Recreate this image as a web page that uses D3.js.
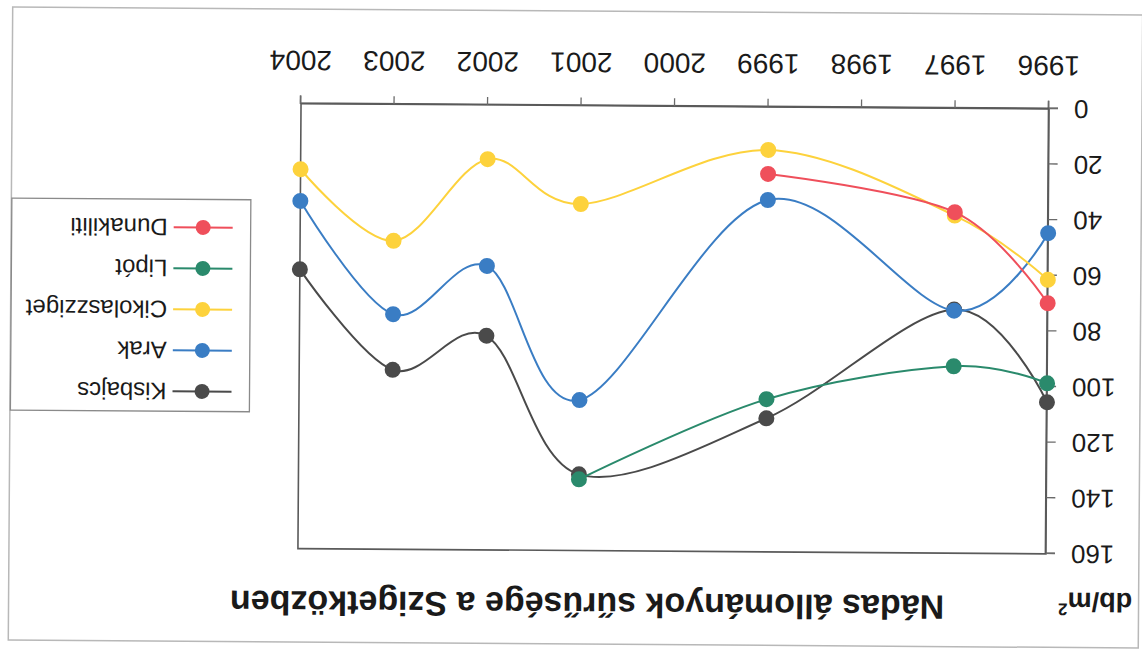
<!DOCTYPE html>
<html>
<head>
<meta charset="utf-8">
<script src="https://cdn.jsdelivr.net/npm/d3@7"></script>
<style>
  html, body { margin: 0; padding: 0; background: #fff; }
  svg { display: block; }
  text { font-family: "Liberation Sans", Arial, sans-serif; fill: #1a1a1a; }
</style>
</head>
<body>
<svg id="chart" width="1142" height="649"></svg>
<script>
// Categories (years) and reed density per site, stems per m² (null = no survey)
const years = ["1996", "1997", "1998", "1999", "2000", "2001", "2002", "2003", "2004"];
const kisbajcs      = [105.5, 72.4, null, 112.0, null, 132.6, 83.0, 95.5, 59.6];
const arak          = [44.7, 72.8, null, 33.5, null, 105.9, 57.9, 75.5, 35.0];
const cikolaszziget = [61.5, 38.6, null, 15.5, null, 35.4, 19.5, 49.1, 23.6];
const lipot         = [98.7, 92.8, null, 105.1, null, 134.4, null, null, null];
const dunakiliti    = [69.9, 37.4, null, 24.1, null, null, null, null, null];
const seriesNames   = ["Kisbajcs", "Arak", "Cikolaszziget", "Lipót", "Dunakiliti"];
const seriesColors  = ["#4a4a4a", "#3a7dc4", "#fdd23c", "#2a8a6c", "#ef4f5b"];
const yTicks        = [0, 20, 40, 60, 80, 100, 120, 140, 160];
const titleText     = "Nádas állományok sűrűsége a Szigetközben";

const seriesValues = [kisbajcs, arak, cikolaszziget, lipot, dunakiliti];
const W = 1142, H = 649;
const svg = d3.select("#chart");
svg.append("rect").attr("width", W).attr("height", H).attr("fill", "#fff");

// The whole sheet is drawn turned upside down
const root = svg.append("g").attr("transform", `rotate(180.4 ${W / 2} ${H / 2})`);

// Sheet frame
root.append("rect")
  .attr("x", 1.5).attr("y", 5).attr("width", 1130).attr("height", 633)
  .attr("fill", "none").attr("stroke", "#b8b8b8").attr("stroke-width", 1.5);

const plot = { left: 94.5, right: 842.5, top: 98.5, bottom: 543.5 };

const x = d3.scalePoint().domain(years).range([plot.left, plot.right]);
const y = d3.scaleLinear().domain([0, 160]).range([plot.bottom, plot.top]);

// Plot area border
root.append("rect")
  .attr("x", plot.left).attr("y", plot.top)
  .attr("width", plot.right - plot.left).attr("height", plot.bottom - plot.top)
  .attr("fill", "none").attr("stroke", "#5a5a5a").attr("stroke-width", 1.6);

// X axis
const xAxis = root.append("g")
  .attr("transform", `translate(0,${plot.bottom})`)
  .call(d3.axisBottom(x).tickSize(8).tickPadding(25));
xAxis.selectAll("text").style("font-size", "28px").attr("fill", "#1a1a1a");

// Y axis
const yAxis = root.append("g")
  .attr("transform", `translate(${plot.left},0)`)
  .call(d3.axisLeft(y).tickValues(yTicks).tickSize(9).tickPadding(16));
yAxis.selectAll("text").style("font-size", "26px").attr("fill", "#1a1a1a");

root.selectAll(".domain").attr("stroke", "#5a5a5a").attr("stroke-width", 1.6);
root.selectAll(".tick line").attr("stroke", "#6a6a6a").attr("stroke-width", 1.3);

// Smoothed series lines with markers; gaps are bridged
const line = d3.line()
  .x(d => x(d.year))
  .y(d => y(d.value))
  .curve(d3.curveCatmullRom.alpha(0));

seriesValues.forEach((vals, i) => {
  const pts = years.map((yr, j) => ({ year: yr, value: vals[j] }))
    .filter(d => d.value !== null);
  const g = root.append("g");
  g.append("path")
    .datum(pts)
    .attr("d", line)
    .attr("fill", "none")
    .attr("stroke", seriesColors[i])
    .attr("stroke-width", 2);
  g.selectAll("circle")
    .data(pts)
    .join("circle")
    .attr("cx", d => x(d.year))
    .attr("cy", d => y(d.value))
    .attr("r", 8)
    .attr("fill", seriesColors[i]);
});

// Legend
const legend = root.append("g");
legend.append("rect")
  .attr("x", 892).attr("y", 235).attr("width", 239).attr("height", 212)
  .attr("fill", "#fff").attr("stroke", "#8a8a8a").attr("stroke-width", 1.3);
seriesNames.forEach((name, i) => {
  const ly = 255 + i * 41;
  legend.append("line")
    .attr("x1", 910).attr("x2", 969).attr("y1", ly).attr("y2", ly)
    .attr("stroke", seriesColors[i]).attr("stroke-width", 2);
  legend.append("circle")
    .attr("cx", 939.5).attr("cy", ly).attr("r", 7.5)
    .attr("fill", seriesColors[i]);
  legend.append("text")
    .attr("x", 975).attr("y", ly)
    .attr("dominant-baseline", "central")
    .style("font-size", "24px")
    .text(name);
});

// Title
root.append("text")
  .attr("x", 553).attr("y", 56)
  .attr("text-anchor", "middle")
  .style("font-size", "34px").style("font-weight", "bold")
  .text(titleText);

// Unit label
const unit = root.append("text")
  .attr("x", 8).attr("y", 60)
  .style("font-size", "27px").style("font-weight", "bold");
unit.append("tspan").text("db/m");
unit.append("tspan").attr("dy", -11).style("font-size", "17px").text("2");
</script>
</body>
</html>
